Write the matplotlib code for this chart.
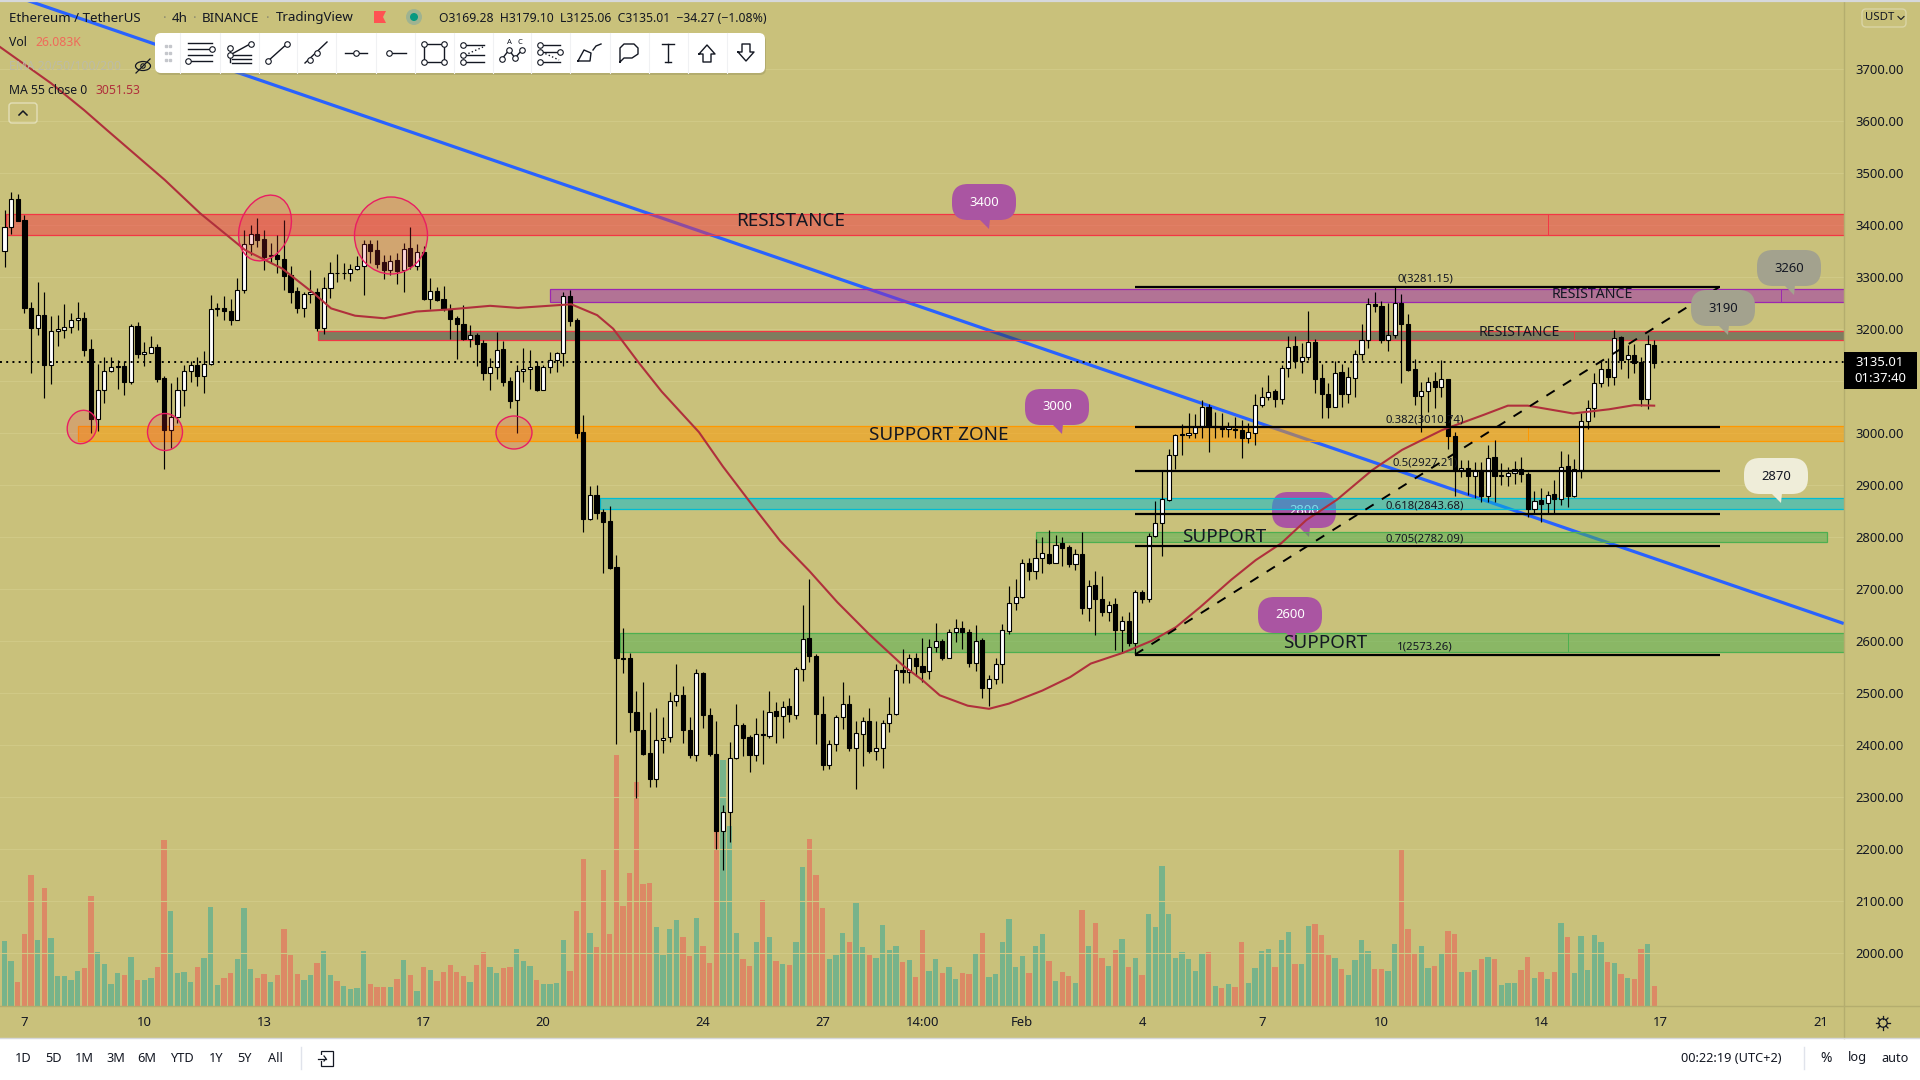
import numpy as np
import matplotlib
matplotlib.use("Agg")
import matplotlib.pyplot as plt
from matplotlib.patches import FancyBboxPatch, Polygon, Ellipse, Rectangle, Circle

plt.rcParams['font.family'] = ['Noto Sans', 'DejaVu Sans']

# ---------- data ----------
opens = [3350,3396,3449,3409,3239,3202,3226,3131,3196,3198,
 3204,3216,3220,3161,3027,3082,3119,3127,3128,3098,
 3205,3152,3154,3165,3105,3006,3030,3083,3119,3130,
 3110,3133,3237,3239,3235,3217,3274,3362,3383,3372,
 3339,3342,3335,3303,3273,3240,3266,3270,3202,3278,
 3308,3307,3308,3314,3320,3362,3351,3328,3313,3333,
 3312,3355,3321,3348,3258,3272,3257,3237,3221,3210,
 3181,3187,3172,3115,3127,3161,3099,3062,3118,3122,
 3128,3083,3126,3139,3153,3262,3217,3001,2834,2881,
 2847,2830,2741,2566,2566,2462,2429,2385,2335,2410,
 2414,2485,2496,2429,2381,2537,2458,2383,2234,2271,
 2375,2437,2414,2381,2421,2416,2464,2455,2474,2458,
 2545,2605,2571,2460,2361,2401,2454,2478,2393,2421,
 2446,2387,2394,2441,2460,2543,2539,2566,2552,2541,
 2588,2600,2567,2617,2624,2616,2557,2601,2510,2527,
 2556,2619,2672,2685,2750,2735,2760,2766,2750,2787,
 2780,2748,2767,2662,2707,2680,2655,2670,2620,2638,
 2596,2694,2681,2802,2827,2871,2958,2995,2996,3000,
 3012,3050,3011,3009,3007,3008,3006,2990,3000,3054,
 3068,3080,3065,3124,3167,3138,3146,3174,3105,3075,
 3050,3116,3075,3106,3152,3178,3247,3243,3178,3188,
 3249,3210,3122,3071,3081,3099,3087,3103,2994,2928,
 2933,2917,2928,2879,2953,2917,2917,2922,2931,2921,
 2854,2870,2864,2882,2873,2936,2878,2928,3023,3048,
 3095,3122,3108,3185,3141,3149,3136,3065,3169]
highs = [3428,3462,3460,3419,3252,3289,3270,3224,3226,3247,
 3230,3251,3232,3180,3133,3146,3146,3140,3137,3210,
 3212,3175,3186,3171,3110,3095,3108,3130,3137,3146,
 3157,3265,3250,3262,3258,3297,3390,3399,3412,3390,
 3364,3380,3410,3321,3281,3271,3313,3278,3300,3329,
 3344,3326,3324,3340,3371,3371,3371,3342,3342,3345,
 3364,3396,3362,3359,3297,3281,3282,3248,3224,3246,
 3208,3191,3178,3143,3193,3176,3108,3130,3162,3159,
 3137,3130,3155,3156,3270,3274,3220,3034,2897,2900,
 2854,2860,2764,2624,2577,2503,2521,2462,2471,2453,
 2501,2555,2512,2453,2545,2540,2471,2446,2284,2405,
 2478,2442,2418,2451,2466,2504,2482,2485,2490,2549,
 2668,2719,2574,2493,2409,2457,2521,2495,2446,2453,
 2471,2446,2447,2492,2556,2584,2574,2577,2606,2604,
 2635,2604,2622,2641,2637,2622,2631,2606,2534,2567,
 2633,2705,2718,2757,2760,2795,2799,2812,2803,2799,
 2784,2777,2810,2716,2734,2725,2677,2683,2648,2655,
 2697,2697,2808,2869,2926,2968,2998,3016,3037,3036,
 3062,3056,3040,3037,3021,3030,3024,3018,3074,3088,
 3111,3085,3130,3186,3186,3172,3234,3180,3133,3095,
 3137,3132,3127,3159,3210,3260,3271,3254,3249,3282,
 3266,3229,3141,3098,3108,3117,3140,3104,3002,2947,
 2947,2944,2944,2976,2986,2941,2935,2946,2954,2925,
 2887,2893,2887,2909,2965,2960,2949,3037,3063,3115,
 3140,3143,3197,3186,3169,3170,3146,3188,3179]
lows = [3319,3383,3408,3230,3114,3188,3066,3094,3167,3183,
 3192,3198,3148,3000,3004,3058,3117,3085,3073,3094,
 3143,3129,3153,3098,2930,2970,3018,3051,3097,3089,
 3077,3130,3224,3217,3207,3216,3269,3342,3358,3312,
 3326,3307,3274,3250,3231,3223,3249,3196,3189,3260,
 3290,3296,3292,3312,3264,3326,3316,3296,3303,3286,
 3271,3314,3312,3256,3238,3254,3235,3180,3142,3178,
 3165,3129,3101,3082,3103,3089,3048,3000,3097,3084,
 3081,3082,3115,3117,3129,3206,2989,2810,2832,2834,
 2731,2738,2401,2538,2424,2298,2381,2319,2319,2384,
 2405,2475,2403,2375,2368,2432,2379,2199,2159,2212,
 2372,2378,2348,2368,2363,2412,2403,2412,2443,2449,
 2523,2560,2401,2351,2354,2387,2431,2388,2315,2359,
 2385,2371,2356,2424,2458,2519,2519,2532,2521,2527,
 2578,2563,2566,2597,2584,2550,2541,2490,2475,2517,
 2519,2613,2660,2683,2716,2718,2731,2748,2749,2743,
 2741,2736,2652,2638,2611,2648,2638,2582,2577,2589,
 2574,2672,2675,2800,2762,2869,2931,2957,2989,2989,
 2989,2962,2990,2992,2992,2990,2951,2980,2976,3050,
 3063,3050,3055,3108,3124,3115,3140,3076,3029,3028,
 3049,3050,3058,3069,3140,3163,3233,3173,3157,3183,
 3096,3119,3053,3002,3040,3047,3069,2968,2879,2915,
 2880,2874,2867,2867,2867,2899,2897,2902,2906,2837,
 2845,2829,2845,2845,2861,2858,2877,2913,3007,3031,
 3088,3090,3092,3122,3105,3114,3051,3045,3125]
closes = [3396,3449,3408,3239,3202,3226,3131,3196,3199,3204,
 3216,3220,3159,3026,3082,3119,3127,3128,3098,3205,
 3151,3155,3164,3103,3005,3030,3083,3119,3130,3110,
 3133,3237,3239,3235,3217,3274,3362,3383,3371,3338,
 3341,3335,3301,3271,3240,3266,3270,3202,3278,3308,
 3307,3308,3314,3320,3362,3350,3324,3313,3331,3311,
 3354,3321,3347,3258,3272,3255,3237,3219,3210,3180,
 3187,3171,3115,3127,3160,3098,3061,3118,3122,3127,
 3082,3126,3139,3153,3262,3215,3000,2835,2881,2846,
 2829,2740,2566,2565,2462,2429,2383,2334,2410,2413,
 2485,2496,2429,2380,2537,2457,2382,2234,2271,2375,
 2437,2412,2381,2421,2418,2463,2455,2473,2459,2545,
 2604,2571,2460,2361,2401,2454,2478,2393,2422,2446,
 2387,2394,2441,2460,2543,2539,2566,2552,2540,2588,
 2600,2566,2617,2624,2616,2557,2600,2510,2527,2556,
 2620,2672,2685,2750,2734,2760,2768,2750,2784,2778,
 2747,2767,2662,2706,2680,2655,2669,2620,2638,2596,
 2694,2681,2802,2827,2872,2958,2995,2997,3000,3011,
 3050,3012,3012,3008,3011,3005,2989,3001,3054,3068,
 3079,3065,3124,3165,3137,3146,3174,3104,3075,3050,
 3115,3074,3108,3152,3178,3247,3244,3178,3188,3249,
 3210,3120,3071,3081,3098,3087,3103,2994,2928,2933,
 2917,2928,2879,2952,2917,2918,2922,2931,2920,2854,
 2869,2863,2881,2873,2935,2878,2930,3023,3048,3095,
 3122,3108,3183,3140,3149,3135,3065,3170,3135]
volumes = [84.8,58.7,31.3,93.9,170.8,86.1,153.9,88.7,39.1,39.1,
 33.9,45.6,49.6,143.5,70.4,54.8,28.7,43,40.4,63.9,
 33.9,33.9,36.5,50.9,216.5,123.9,43,44.3,31.3,50.9,
 62.6,129.1,27.4,36.5,43,61.3,127.8,48.3,36.5,41.7,
 31.3,40.4,100.4,66.5,41.7,33.9,40.4,56.1,71.7,40.4,
 32.6,26.1,22.2,23.5,71.7,28.7,24.8,24.8,24.8,35.2,
 60,40.4,19.6,50.9,46.9,32.6,44.3,53.5,44.3,39.1,
 31.3,53.5,70.4,50.9,43,49.6,50.9,74.3,58.7,52.2,
 33.9,28.7,28.7,30,86.1,45.6,123.9,191.7,95.2,76.9,
 177.4,93.9,327.3,130.4,173.4,292.1,159.1,160.4,103,66.5,
 100.4,112.2,90,65.2,114.8,78.2,56.1,270,320.8,234.7,
 95.2,61.3,52.2,83.5,138.2,90,58.7,54.8,53.5,83.5,
 181.3,217.8,170.8,127.8,61.3,66.5,95.2,83.5,134.3,76.9,
 66.5,62.6,105.6,73,78.2,57.4,60,37.8,99.1,45.6,
 61.3,43,50.9,35.2,43,41.7,67.8,95.2,37.8,41.7,
 83.5,113.5,50.9,65.2,43,78.2,93.9,58.7,32.6,44.3,
 39.1,30,125.2,78.2,108.2,62.6,52.2,73,87.4,50.9,
 62.6,40.4,120,103,182.6,120,62.6,70.4,61.3,45.6,
 67.8,70.4,26.1,23.5,28.7,24.8,83.5,30,49.6,71.7,
 74.3,50.9,86.1,96.5,54.8,54.8,104.3,106.9,92.6,66.5,
 62.6,48.3,40.4,60,86.1,71.7,48.3,48.3,45.6,80.9,
 204.7,100.4,69.1,78.2,49.6,52.2,67.8,97.8,93.9,44.3,
 44.3,46.9,61.3,63.9,61.3,27.4,30,30,46.9,63.9,
 36.5,44.3,35.2,44.3,108.2,90,43,91.3,46.9,92.6,
 83.5,57.4,56.1,41.7,36.5,35.2,74.3,80.9,26.1]

ma_x = [-0.7,7,12,15.4,24.1,29.4,36.2,41.7,46.5,49.1,52.7,57.1,61.9,66.8,73,77.2,85.2,89.1,
        91.5,95.2,98.8,104.4,108,112.4,116.6,121,125.2,130.1,135.1,138.1,140.6,144.8,148,
        151,156,160.2,163.3,168.2,172.5,176.1,179.7,184.4,188.1,191.9,195.7,200.3,205.6,
        210.1,216.1,222.3,226,229,235.8,241.2,245,248]
ma_y = [3742,3672,3620,3582,3486,3422,3351,3316,3268,3239,3225,3220,3233,3237,3244,3240,3247,3226,
        3200,3137,3079,3001,2935,2861,2792,2734,2674,2611,2552,2523,2495,2475,2469,
        2479,2504,2530,2556,2577,2600,2626,2664,2717,2755,2787,2832,2871,2928,
        2967,3005,3034,3052,3052,3037,3045,3053,3052]

price_ticks = list(range(2000, 3800, 100))
time_ticks = [3,21,39,63,81,105,123,138,153,171,189,207,231,249,273]
time_labels = ['7','10','13','17','20','24','27','14:00','Feb','4','7','10','14','17','21']
fib_levels = [3281.15,3010.74,2927.21,2843.68,2782.09,2573.26]
fib_labels = ['0(3281.15)','0.382(3010.74)','0.5(2927.21)','0.618(2843.68)','0.705(2782.09)','1(2573.26)']
last_price = 3135.01

BG = '#C9C17B'
DARK = '#131722'

# ---------- figure and scales ----------
W, H = 1920, 1080
AX_R, AX_B = 1844, 1006
K = 6.652
X0 = 4.5
fig = plt.figure(figsize=(19.2, 10.8), dpi=100, facecolor=BG)
rect = [0, 1 - AX_B / H, AX_R / W, AX_B / H]
xlim = (-X0 / K, (AX_R - X0) / K)

axv = fig.add_axes(rect, zorder=1, facecolor=BG)
axv.set_xlim(xlim)
axv.set_ylim(0, AX_B * 1.304)
axv.axis('off')

ax = fig.add_axes(rect, zorder=2)
ax.patch.set_visible(False)
ax.set_xlim(xlim)
ax.set_ylim(3300 - (AX_B - 276.7) / 0.52, 3300 + 276.7 / 0.52)
for s in ax.spines.values():
    s.set_visible(False)
ax.yaxis.tick_right()
ax.set_yticks(price_ticks)
ax.set_yticklabels([f'{p:.2f}' for p in price_ticks], fontsize=9.4, color=DARK)
ax.set_xticks(time_ticks)
ax.set_xticklabels(time_labels, fontsize=9.4, color=DARK)
ax.get_xticklabels()[8].set_fontweight('bold')
ax.tick_params(axis='both', length=0)
ax.tick_params(axis='y', pad=8)
ax.tick_params(axis='x', pad=7)
ax.grid(axis='y', color='#D0C986', lw=0.8, zorder=0)
ax.set_axisbelow(True)

# overlay in pixels for interface parts
ov = fig.add_axes([0, 0, 1, 1], zorder=5)
ov.set_xlim(0, W)
ov.set_ylim(H, 0)
ov.axis('off')

idx = np.arange(len(opens))
o, h, l, c = map(np.array, (opens, highs, lows, closes))
up = c >= o

# ---------- volume ----------
vol = np.array(volumes)
axv.bar(idx[up], vol[up], width=0.8, color='#26A69A', alpha=0.5, lw=0)
axv.bar(idx[~up], vol[~up], width=0.8, color='#EF5350', alpha=0.5, lw=0)
axv.grid(False)


# ---------- speech bubbles ----------
def bubble(target, left, top, text, fc, tc, z, alpha=1.0):
    w, hh = 64, 36
    r = 16
    target.add_patch(FancyBboxPatch((left + r, top + r), w - 2 * r, hh - 2 * r,
                                    boxstyle=f'round,pad={r},rounding_size={r}',
                                    fc=fc, ec='none', lw=0, alpha=alpha, zorder=z,
                                    transform=ov.transData))
    target.add_patch(Polygon([(left + 27, top + hh - 1), (left + 38, top + hh - 1), (left + 37, top + hh + 9)],
                             closed=True, fc=fc, ec='none', alpha=alpha, zorder=z, transform=ov.transData))
    target.text(left + w / 2, top + hh / 2, text, color=tc, fontsize=9.4, ha='center', va='center',
                zorder=z + 0.1, transform=ov.transData)


PUR = '#AA55A2'
GRY = '#A3A28E'
bubble(ax, 1272, 492, '2800', PUR, 'white', 1.0)

# ---------- trend line under the zones ----------
ax.plot([3.3, 276.5], [3832, 2633], color='#2962FF', lw=2.3, zorder=1.2, solid_capstyle='butt')


# ---------- zones ----------
def zone(i0, i1, lo, hi, fc, ec, div=None):
    ax.add_patch(Rectangle((i0, lo), i1 - i0, hi - lo, fc=fc, ec='none', alpha=0.5, zorder=2))
    ax.add_patch(Rectangle((i0, lo), i1 - i0, hi - lo, fc='none', ec=ec, lw=0.9, zorder=2.1))
    if div is not None:
        ax.plot([div, div], [lo, hi], color=ec, lw=0.7, zorder=2.1)


def ix(px):
    return (px - X0) / K


RIGHT = ix(AX_R + 6)
zone(ix(6), RIGHT, 3380, 3420, '#F23645', '#F23645', ix(1548))
zone(ix(550), RIGHT, 3252, 3276, '#9C27B0', '#9C27B0', ix(1781))
zone(ix(318), RIGHT, 3179, 3196, '#363A45', '#F23645', ix(1574))
zone(ix(78), RIGHT, 2985, 3013, '#FF9800', '#FF9800', ix(1528))
zone(ix(600), RIGHT, 2854, 2874, '#00BCD4', '#00BCD4')
zone(ix(1036), ix(1827), 2789, 2810, '#4CAF50', '#4CAF50')
zone(ix(620), RIGHT, 2579, 2614, '#4CAF50', '#4CAF50', ix(1568))

# ---------- candles ----------
ax.vlines(idx, l, h, color='black', lw=0.85, zorder=3)
ax.bar(idx, np.maximum(np.abs(c - o), 0.5), bottom=np.minimum(o, c), width=0.62,
       color=np.where(up, 'white', 'black'), edgecolor='black', lw=0.8, zorder=3.1)

# ---------- moving average, price line ----------
ax.plot(ma_x, ma_y, color='#B0303C', lw=1.5, zorder=3.5)
ax.axhline(last_price, color='black', lw=1.4, ls=(0, (1, 2.2)), zorder=3.4)

# ---------- fibonacci ----------
for lv, lb in zip(fib_levels, fib_labels):
    ax.plot([ix(1135), ix(1720)], [lv, lv], color='black', lw=1.6, zorder=3.6, solid_capstyle='butt')
    ax.annotate(lb, (ix(1425), lv), xytext=(0, 5.4), textcoords='offset points', fontsize=8.2,
                color=DARK, ha='center', va='center', zorder=3.7)
ax.plot([ix(1135), ix(1720)], [fib_levels[-1], fib_levels[0]], color='black', lw=1.4,
        ls=(0, (5, 5)), zorder=3.6)

# ---------- circles ----------
for cx, cy, ew, eh, ang in [(265, 228, 50, 68, 22), (391, 235.5, 73, 77, 0), (82, 427, 29, 34, 20),
                            (165, 432, 35, 37, 0), (514, 432.5, 36, 33, 0)]:
    ov.add_patch(Ellipse((cx, cy), ew, eh, angle=ang, fc='#F23645', alpha=0.2, ec='none'))
    ov.add_patch(Ellipse((cx, cy), ew, eh, angle=ang, fc='none', ec='#E91E63', lw=1))

# ---------- bubbles and words ----------
bubble(ov, 952, 184, '3400', PUR, 'white', 6)
bubble(ov, 1025, 389, '3000', PUR, 'white', 6)
bubble(ov, 1258, 597, '2600', PUR, 'white', 6)
bubble(ov, 1757, 250, '3260', GRY, DARK, 6)
bubble(ov, 1691, 290, '3190', GRY, DARK, 6)
bubble(ov, 1744, 458, '2870', '#EFEDD9', DARK, 6)

for px, py, txt, fs in [(791, 221, 'RESISTANCE', 13.6), (939, 435, 'SUPPORT ZONE', 13.6),
                        (1224.5, 537, 'SUPPORT', 13.6), (1325, 643, 'SUPPORT', 13.6),
                        (1592, 295, 'RESISTANCE', 10.2), (1519.6, 333, 'RESISTANCE', 10.2)]:
    ov.text(px, py, txt, fontsize=fs, color=DARK, ha='center', va='center', zorder=7)

# ---------- frame ----------
ov.add_patch(Rectangle((0, 1038), W, 42, fc='white', ec='none', zorder=8))
ov.plot([0, W], [1038, 1038], color='#D6D8DC', lw=1, zorder=8.1)
ov.plot([0, W], [0.8, 0.8], color='#D6D8DC', lw=1.6, zorder=8.1)
ov.plot([AX_R, AX_R], [0, 1038], color='#B4AD6E', lw=1, zorder=8)
ov.plot([0, W], [AX_B, AX_B], color='#B4AD6E', lw=1, zorder=8)

# price tag
ov.add_patch(Rectangle((AX_R, 352), 73, 37, fc='black', ec='none', zorder=9))
ov.text(1880, 363, '3135.01', color='white', fontsize=9.4, fontweight='bold', ha='center', va='center', zorder=10)
ov.text(1880, 379, '01:37:40', color='white', fontsize=9.4, fontweight='bold', ha='center', va='center', zorder=10)

# USDT selector
ov.add_patch(FancyBboxPatch((1862, 9), 44, 18, boxstyle='round,pad=0,rounding_size=4', fc='none', ec='#DAD5A6', lw=1, zorder=9))
ov.text(1880, 18, 'USDT', fontsize=8.2, color=DARK, ha='center', va='center', zorder=9)
ov.plot([1898, 1901, 1904], [16.5, 19.5, 16.5], color=DARK, lw=0.8, zorder=9)

# gear icon
gx, gy = 1883, 1023
ov.add_patch(Circle((gx, gy), 4.2, fc='none', ec=DARK, lw=0.9, zorder=9))
for a in np.deg2rad(np.arange(0, 360, 45)):
    ov.plot([gx + 4.2 * np.cos(a), gx + 7 * np.cos(a)], [gy + 4.2 * np.sin(a), gy + 7 * np.sin(a)],
            color=DARK, lw=0.9, zorder=9)

# ---------- header legend ----------
for px, txt in [(9, 'Ethereum / TetherUS'), (172, '4h'), (201.5, 'BINANCE'), (275.5, 'TradingView')]:
    ov.text(px, 18, txt, fontsize=9.6, color=DARK, ha='left', va='center', zorder=9)
for px in (165, 195, 268):
    ov.text(px, 18, '·', fontsize=9.6, color='#8A8A70', ha='center', va='center', zorder=9)
ov.add_patch(Polygon([(374, 11), (386, 11), (383, 17), (386, 23), (374, 23)], fc='#FF5252', ec='none', zorder=9))
ov.add_patch(Circle((414, 17), 8, fc='#9FB391', ec='none', zorder=9))
ov.add_patch(Circle((414, 17), 4, fc='#089981', ec='none', zorder=9.1))
ov.text(439, 18, 'O3169.28  H3179.10  L3125.06  C3135.01  −34.27 (−1.08%)', fontsize=8.8, color=DARK,
        ha='left', va='center', zorder=9)
ov.text(9, 42, 'Vol', fontsize=8.8, color=DARK, ha='left', va='center', zorder=9)
ov.text(35, 42, '26.083K', fontsize=8.8, color='#EF6A5A', ha='left', va='center', zorder=9)
ov.text(9, 66, 'EMA 20/50/100/200', fontsize=8.8, color='#BDBCA6', ha='left', va='center', zorder=9)
ov.text(9, 90, 'MA 55 close 0', fontsize=8.8, color=DARK, ha='left', va='center', zorder=9)
ov.text(96, 90, '3051.53', fontsize=8.8, color='#B0303C', ha='left', va='center', zorder=9)
# hidden eye
ov.add_patch(Ellipse((143, 66), 15, 9, fc='none', ec=DARK, lw=0.9, zorder=9))
ov.add_patch(Circle((143, 66), 2.2, fc='none', ec=DARK, lw=0.8, zorder=9))
ov.plot([136, 150], [73, 59], color=DARK, lw=0.9, zorder=9)
# collapse button
ov.add_patch(FancyBboxPatch((9, 103), 28, 20, boxstyle='round,pad=0,rounding_size=3', fc='none', ec='#E3DFB8', lw=1, zorder=9))
ov.plot([19, 23, 27], [115, 111, 115], color=DARK, lw=1.1, zorder=9)

# ---------- floating drawing toolbar ----------
ov.add_patch(FancyBboxPatch((156, 35), 610, 40, boxstyle='round,pad=0,rounding_size=6', fc='#8C8757', ec='none', alpha=0.35, zorder=10))
ov.add_patch(FancyBboxPatch((155, 33), 610, 40, boxstyle='round,pad=0,rounding_size=6', fc='white', ec='none', zorder=10.1))
for yy in (46, 53, 60):
    for xx in (166, 170):
        ov.plot(xx, yy, 's', ms=1.8, color='#C5C7CC', zorder=10.2)
icon_x = [200, 239, 278, 316, 356, 395, 434, 473, 512, 550, 590, 629, 668, 707, 746]
for sx in [180] + [(a + b) / 2 for a, b in zip(icon_x[:-1], icon_x[1:])]:
    ov.plot([sx, sx], [33, 73], color='#F0F1F3', lw=0.8, zorder=10.2)


def L(xs, ys, **kw):
    ov.plot(xs, ys, color=DARK, lw=kw.get('lw', 1), ls=kw.get('ls', '-'), zorder=10.3)


def N(x, y):
    ov.plot(x, y, 'o', ms=4, mfc='white', mec=DARK, mew=0.8, zorder=10.4)


cx = icon_x[0]
for yy in (43, 49, 55, 61):
    L([cx - 12, cx + 12], [yy, yy])
N(cx + 12, 49); N(cx - 12, 61)
cx = icon_x[1]
for yy in (55, 59, 63):
    L([cx - 7, cx + 12], [yy, yy])
L([cx - 9, cx + 11], [55, 44]); L([cx - 9, cx - 9], [50, 62])
N(cx + 12, 44); N(cx - 9, 48); N(cx - 9, 55)
cx = icon_x[2]
L([cx - 10, cx + 10], [61, 43]); N(cx - 10, 61); N(cx + 9, 44)
cx = icon_x[3]
L([cx - 11, cx + 11], [63, 42]); N(cx - 6, 60); N(cx + 1, 53)
cx = icon_x[4]
L([cx - 11, cx + 11], [53, 53]); N(cx, 53)
cx = icon_x[5]
L([cx - 6, cx + 11], [53, 53]); N(cx - 6, 53)
cx = icon_x[6]
L([cx - 10, cx + 10, cx + 10, cx - 10, cx - 10], [44, 44, 62, 62, 44])
for a, b in [(-10, 44), (10, 44), (-10, 62), (10, 62)]:
    N(cx + a, b)
cx = icon_x[7]
for yy in (45, 55, 62):
    L([cx - 10, cx + 11], [yy, yy])
N(cx - 10, 45); N(cx - 10, 55); N(cx - 10, 62)
L([cx - 8, cx + 10], [55, 47], ls=':')
cx = icon_x[8]
L([cx - 10, cx - 3, cx + 3, cx + 10], [59, 50, 58, 50])
for a, b in [(-10, 59), (-3, 50), (3, 58), (10, 50)]:
    N(cx + a, b)
ov.text(cx - 3, 43, 'A', fontsize=5.5, fontweight='bold', color=DARK, ha='center', va='center', zorder=10.4)
ov.text(cx + 8, 43, 'C', fontsize=5.5, fontweight='bold', color=DARK, ha='center', va='center', zorder=10.4)
cx = icon_x[9]
for yy in (45, 52, 62):
    L([cx - 10, cx + 10], [yy, yy])
N(cx - 10, 45); N(cx - 10, 52); N(cx - 10, 62); N(cx + 10, 52)
L([cx - 8, cx + 9], [52, 60], ls=':')
cx = icon_x[10]
L([cx - 12, cx - 6, cx + 1, cx + 0, cx - 12], [61, 50, 53, 61, 61])
L([cx + 3, cx + 6, cx + 11], [50, 46, 44])
cx = icon_x[11]
L([cx - 9, cx - 9, cx - 5, cx + 5, cx + 9, cx + 9, cx + 3, cx - 5, cx - 9],
  [62, 48, 44, 44, 48, 54, 58, 58, 62])
cx = icon_x[12]
L([cx, cx], [44, 62]); L([cx - 6, cx + 6], [44, 44]); L([cx - 3, cx + 3], [62, 62])
cx = icon_x[13]
L([cx - 8, cx, cx + 8, cx + 4, cx + 4, cx - 4, cx - 4, cx - 8], [54, 45, 54, 54, 62, 62, 54, 54])
cx = icon_x[14]
L([cx - 8, cx, cx + 8, cx + 4, cx + 4, cx - 4, cx - 4, cx - 8], [52, 61, 52, 52, 44, 44, 52, 52])

# ---------- bottom bar ----------
for px, txt in zip([23.3, 54, 84.5, 116, 147, 182, 216, 245, 275.6],
                   ['1D', '5D', '1M', '3M', '6M', 'YTD', '1Y', '5Y', 'All']):
    ov.text(px, 1058, txt, fontsize=9.2, color=DARK, ha='center', va='center', zorder=9)
for sx in (300.7, 1804):
    ov.plot([sx, sx], [1047, 1069], color='#E0E3EB', lw=1, zorder=9)
ov.add_patch(Rectangle((321, 1051), 12, 15, fc='none', ec=DARK, lw=0.9, zorder=9))
ov.add_patch(Rectangle((319, 1055), 7, 6, fc='white', ec='none', zorder=9.1))
ov.plot([318, 326], [1058.5, 1058.5], color=DARK, lw=0.9, zorder=9.2)
ov.plot([324, 326, 324], [1056, 1058.5, 1061], color=DARK, lw=0.9, zorder=9.2)
ov.text(1731.6, 1058, '00:22:19 (UTC+2)', fontsize=9.2, color=DARK, ha='center', va='center', zorder=9)
ov.text(1826.5, 1058, '%', fontsize=10, color=DARK, ha='center', va='center', zorder=9)
ov.text(1857, 1058, 'log', fontsize=9.2, color=DARK, ha='center', va='center', zorder=9)
ov.text(1895, 1058, 'auto', fontsize=9.2, color=DARK, ha='center', va='center', zorder=9)

fig.savefig('out.png', dpi=100, facecolor=BG)
